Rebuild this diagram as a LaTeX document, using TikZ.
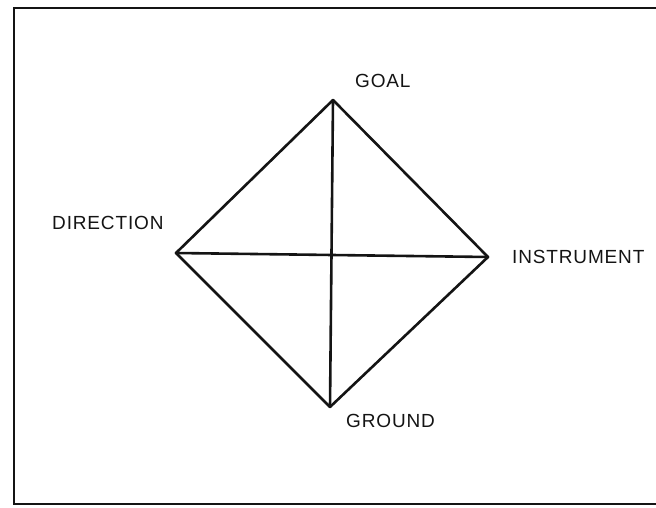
\documentclass[tikz,border=0pt]{standalone}
\usepackage{fontspec}
\setmainfont{Liberation Sans}
\newfontfamily\labelfont[LetterSpace=4.5]{Liberation Sans}
\usepackage{tikz}
\usetikzlibrary{positioning}
\definecolor{inkblack}{RGB}{20,20,20}

\tikzset{
  corner/.style={inner sep=0pt, minimum size=0pt},
  pointlabel/.style={font=\labelfont\fontsize{19}{22}\selectfont, text=inkblack, inner sep=0pt},
  edgeline/.style={draw=inkblack, line width=2.6pt, line join=round, line cap=round},
  frameline/.style={draw=inkblack, line width=2.4pt}
}

\begin{document}
\begin{tikzpicture}[x=1pt, y=-1pt]
  \useasboundingbox (0,0) rectangle (656,508);
  % open frame: left, top and bottom edges
  \coordinate (frameTR) at (656,8);
  \coordinate (frameTL) at (14,8);
  \coordinate (frameBL) at (14,504);
  \coordinate (frameBR) at (656,504);
  \draw[frameline] (frameTR) -- (frameTL) -- (frameBL) -- (frameBR);

  % corners of the diamond
  \node[corner] (goal)  at (333,100) {};
  \node[corner] (dir)   at (176,253) {};
  \node[corner] (instr) at (488,257) {};
  \node[corner] (grnd)  at (330,407) {};

  \draw[edgeline] (goal.center) -- (instr.center) -- (grnd.center) -- (dir.center) -- cycle;
  \draw[edgeline] (dir.center) -- (instr.center);
  \draw[edgeline] (goal.center) -- (grnd.center);

  % labels
  \node[pointlabel, anchor=west] (goallbl)  at (355,81)  {GOAL};
  \node[pointlabel, anchor=west] (dirlbl)   at (52,223)  {DIRECTION};
  \node[pointlabel, anchor=west] (instrlbl) at (512,257) {INSTRUMENT};
  \node[pointlabel, anchor=west] (grndlbl)  at (346,421) {GROUND};
\end{tikzpicture}
\end{document}
